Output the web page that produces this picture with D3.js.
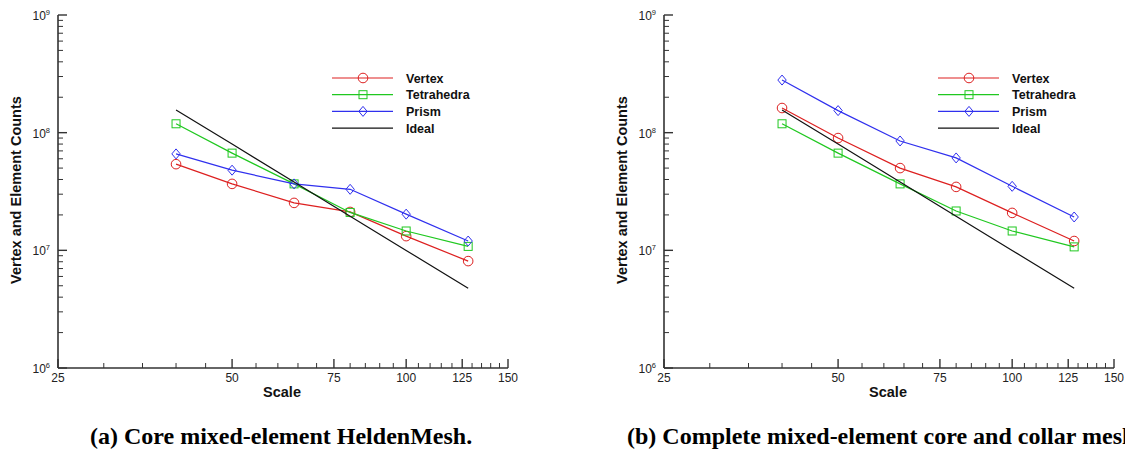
<!DOCTYPE html>
<html>
<head>
<meta charset="utf-8">
<script src="https://cdn.jsdelivr.net/npm/d3@7"></script>
<style>
body { margin: 0; background: #fff; }
svg { display: block; }
.tick-label { font-family: "Liberation Sans", Arial, sans-serif; font-size: 12px; fill: #222; }
.axis-title { font-family: "Liberation Sans", Arial, sans-serif; font-size: 14.5px; font-weight: bold; fill: #111; }
.legend-text { font-family: "Liberation Sans", Arial, sans-serif; font-size: 12.5px; font-weight: bold; fill: #111; }
.caption { font-family: "Liberation Serif", "Times New Roman", serif; font-size: 24px; font-weight: bold; fill: #000; }
</style>
</head>
<body>
<svg width="1125" height="462"></svg>
<script>
// mesh scale values (x) shared by both panels
var scales = [40, 50, 64, 80, 100, 128];
var seriesNames = ['Vertex', 'Tetrahedra', 'Prism', 'Ideal'];

// (a) core mesh
var coreVertex = [5.4e7, 3.67e7, 2.53e7, 2.12e7, 1.32e7, 8.1e6];
var coreTetra = [1.19e8, 6.7e7, 3.67e7, 2.1e7, 1.46e7, 1.08e7];
var corePrism = [6.6e7, 4.8e7, 3.67e7, 3.3e7, 2.03e7, 1.2e7];
var coreIdeal = [1.56e8, 8.0e7, 3.81e7, 1.95e7, 9.98e6, 4.76e6];

// (b) core and collar mesh
var fullVertex = [1.62e8, 9.0e7, 5.0e7, 3.46e7, 2.08e7, 1.2e7];
var fullTetra = [1.19e8, 6.7e7, 3.67e7, 2.16e7, 1.46e7, 1.07e7];
var fullPrism = [2.8e8, 1.54e8, 8.5e7, 6.1e7, 3.5e7, 1.92e7];
var fullIdeal = [1.56e8, 8.0e7, 3.81e7, 1.95e7, 9.98e6, 4.76e6];

var xMajor = [25, 50, 75, 100, 125, 150];
var xMinor = d3.range(30, 150, 5).filter(v => v % 25 !== 0);
var yDecades = [1e6, 1e7, 1e8, 1e9];
var yExponents = ['6', '7', '8', '9'];

var captions = ['(a) Core mixed-element HeldenMesh.', '(b) Complete mixed-element core and collar mesh'];

var colors = ['#dd2020', '#20c820', '#3030ee', '#111'];
var markers = ['circle', 'square', 'diamond', null];

var svg = d3.select('svg');

function drawMarker(g, type, x, y, color){
	switch(type){
		case 'circle':
			g.append('circle').attr('cx', x).attr('cy', y).attr('r', 4.8)
				.style('fill', 'none').style('stroke', color).style('stroke-width', 1);
			break;
		case 'square':
			g.append('rect').attr('x', x - 4).attr('y', y - 4).attr('width', 8).attr('height', 8)
				.style('fill', 'none').style('stroke', color).style('stroke-width', 1);
			break;
		case 'diamond':
			g.append('path').attr('d', 'M' + x + ',' + (y - 5) + 'L' + (x + 4.2) + ',' + y + 'L' + x + ',' + (y + 5) + 'L' + (x - 4.2) + ',' + y + 'Z')
				.style('fill', 'none').style('stroke', color).style('stroke-width', 1);
			break;
	}
}

function drawPanel(opts){
	var g = svg.append('g');
	var x = d3.scaleLog().domain([25, 150]).range([opts.left, opts.right]);
	var y = d3.scaleLog().domain([1e6, 1e9]).range([368, 15]);

	// series
	opts.series.forEach(function(values, i){
		var line = d3.line().x((d, j) => x(scales[j])).y(d => y(d));
		g.append('path').datum(values).attr('d', line)
			.style('fill', 'none').style('stroke', colors[i]).style('stroke-width', 1.2);
		if(markers[i]){
			values.forEach(function(v, j){
				drawMarker(g, markers[i], x(scales[j]), y(v), colors[i]);
			});
		}
	});

	// axes
	var ax = g.append('g').style('stroke', '#333');
	ax.append('line').attr('x1', opts.left).attr('x2', opts.right).attr('y1', y(1e6)).attr('y2', y(1e6)).style('stroke-width', 1.6);
	ax.append('line').attr('x1', opts.left).attr('x2', opts.left).attr('y1', y(1e6)).attr('y2', y(1e9)).style('stroke-width', 1.6);

	xMajor.forEach(function(v){
		ax.append('line').attr('x1', x(v)).attr('x2', x(v)).attr('y1', y(1e6)).attr('y2', y(1e6) - 9).style('stroke-width', 1.4);
		g.append('text').attr('class', 'tick-label').attr('x', x(v)).attr('y', 382).attr('text-anchor', 'middle').text(v);
	});
	xMinor.forEach(function(v){
		ax.append('line').attr('x1', x(v)).attr('x2', x(v)).attr('y1', y(1e6)).attr('y2', y(1e6) - 5).style('stroke-width', 1);
	});

	yDecades.forEach(function(v, i){
		ax.append('line').attr('x1', opts.left).attr('x2', opts.left + 9).attr('y1', y(v)).attr('y2', y(v)).style('stroke-width', 1.4);
		var t = g.append('text').attr('class', 'tick-label').attr('x', opts.left - 8).attr('y', y(v) + 5).attr('text-anchor', 'end');
		t.append('tspan').text('10');
		t.append('tspan').attr('dy', -5).style('font-size', '7.5px').text(yExponents[i]);
		if(i < yDecades.length - 1){
			d3.range(2, 10).forEach(function(m){
				ax.append('line').attr('x1', opts.left).attr('x2', opts.left + 5).attr('y1', y(v * m)).attr('y2', y(v * m)).style('stroke-width', 1);
			});
		}
	});

	// titles
	g.append('text').attr('class', 'axis-title').attr('x', opts.left + 224).attr('y', 397).attr('text-anchor', 'middle').text('Scale');
	g.append('text').attr('class', 'axis-title')
		.attr('transform', 'translate(' + (opts.left - 37) + ',' + 190 + ') rotate(-90)')
		.attr('text-anchor', 'middle').text('Vertex and Element Counts');

	// legend
	var lg = g.append('g');
	seriesNames.forEach(function(name, i){
		var ly = 78 + i * 16.7;
		lg.append('line').attr('x1', opts.legendX).attr('x2', opts.legendX + 61).attr('y1', ly).attr('y2', ly)
			.style('stroke', colors[i]).style('stroke-width', 1.2);
		if(markers[i]){
			drawMarker(lg, markers[i], opts.legendX + 31, ly, colors[i]);
		}
		lg.append('text').attr('class', 'legend-text').attr('x', opts.legendX + 74).attr('y', ly + 4.5).text(name);
	});

	// caption
	svg.append('text').attr('class', 'caption').attr('x', opts.captionX).attr('y', 444).text(opts.caption);
}

drawPanel({left: 58, right: 508, legendX: 332, captionX: 90, caption: captions[0],
	series: [coreVertex, coreTetra, corePrism, coreIdeal]});
drawPanel({left: 664, right: 1114, legendX: 938, captionX: 627, caption: captions[1],
	series: [fullVertex, fullTetra, fullPrism, fullIdeal]});
</script>
</body>
</html>
